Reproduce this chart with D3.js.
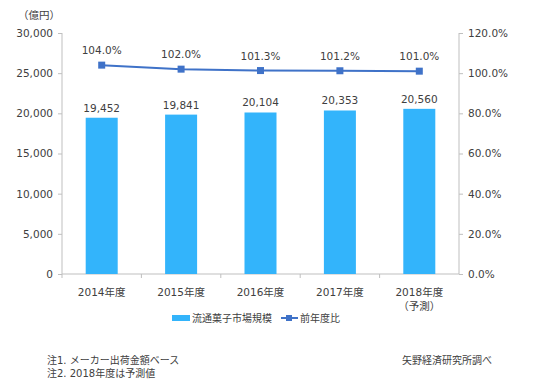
<!DOCTYPE html>
<html>
<head>
<meta charset="utf-8">
<title>流通菓子市場規模</title>
<style>
  body { margin: 0; background: #fff; }
  text { font-family: "DejaVu Sans", "Noto Sans CJK JP", sans-serif; fill: #404040; }
  .axis path, .axis line { stroke: #bfbfbf; }
</style>
<script src="https://cdn.jsdelivr.net/npm/d3@7"></script>
</head>
<body>
<script>
// data
var years = ["2014年度", "2015年度", "2016年度", "2017年度", "2018年度"];
var marketSize = [19452, 19841, 20104, 20353, 20560];
var yoy = [104.0, 102.0, 101.3, 101.2, 101.0];
var leftTicks = [0, 5000, 10000, 15000, 20000, 25000, 30000];
var rightTicks = [0, 20, 40, 60, 80, 100, 120];

var width = 544, height = 388;
var margin = {top: 33, left: 62, right: 85, bottom: 114};
var barColor = "#33b4fb", lineColor = "#3f72c8";

var svg = d3.select("body").append("svg")
  .attr("width", width).attr("height", height);

var x = d3.scaleBand().domain(years)
  .range([margin.left, width - margin.right]).paddingInner(0.6).paddingOuter(0.3);
var y = d3.scaleLinear().domain([0, 30000]).range([height - margin.bottom, margin.top]);
var y2 = d3.scaleLinear().domain([0, 120]).range([height - margin.bottom, margin.top]);
var xb = d3.scaleBand().domain(years).range([margin.left, width - margin.right]);

// left axis
var gl = svg.append("g").attr("class", "axis")
  .attr("transform", "translate(" + margin.left + ",0)")
  .call(d3.axisLeft(y).tickValues(leftTicks).tickFormat(d3.format(",")).tickSize(4).tickSizeOuter(0));
gl.selectAll("text").attr("font-size", "10.5px").attr("x", -9);
gl.select(".domain").remove();
gl.append("line").attr("x1", 0).attr("x2", 0).attr("y1", y(0)).attr("y2", y(30000)).attr("stroke", "#bfbfbf");

// right axis
var gr = svg.append("g").attr("class", "axis")
  .attr("transform", "translate(" + (width - margin.right) + ",0)")
  .call(d3.axisRight(y2).tickValues(rightTicks).tickFormat(function(d){ return d.toFixed(1) + "%"; }).tickSize(4).tickSizeOuter(0));
gr.selectAll("text").attr("font-size", "10.5px").attr("x", 9);
gr.select(".domain").remove();
gr.append("line").attr("x1", 0).attr("x2", 0).attr("y1", y2(0)).attr("y2", y2(120)).attr("stroke", "#bfbfbf");

// x axis baseline with ticks on category boundaries
var gx = svg.append("g").attr("class", "axis");
gx.append("line").attr("x1", margin.left).attr("x2", width - margin.right)
  .attr("y1", y(0)).attr("y2", y(0)).attr("stroke", "#bfbfbf");
gx.selectAll(".bt").data(years).enter().append("line")
  .attr("x1", function(d){ return xb(d); }).attr("x2", function(d){ return xb(d); })
  .attr("y1", y(0)).attr("y2", y(0) + 4).attr("stroke", "#bfbfbf");
svg.selectAll(".xl").data(years).enter().append("text")
  .attr("x", function(d){ return xb(d) + xb.bandwidth() / 2; })
  .attr("y", y(0) + 22).attr("text-anchor", "middle").attr("font-size", "10.5px")
  .text(function(d){ return d; });
svg.append("text").attr("x", xb(years[4]) + xb.bandwidth() / 2).attr("y", y(0) + 36)
  .attr("text-anchor", "middle").attr("font-size", "10.5px").text("（予測）");

// unit
svg.append("text").attr("x", 18).attr("y", 19).attr("font-size", "10.5px").text("（億円）");

// bars
svg.selectAll(".bar").data(marketSize).enter().append("rect")
  .attr("x", function(d, i){ return xb(years[i]) + xb.bandwidth() / 2 - 16; })
  .attr("width", 32)
  .attr("y", function(d){ return y(d); })
  .attr("height", function(d){ return y(0) - y(d); })
  .attr("fill", barColor);
svg.selectAll(".bl").data(marketSize).enter().append("text")
  .attr("x", function(d, i){ return xb(years[i]) + xb.bandwidth() / 2; })
  .attr("y", function(d){ return y(d) - 6; })
  .attr("text-anchor", "middle").attr("font-size", "10.5px")
  .text(d3.format(","));

// line
var line = d3.line()
  .x(function(d, i){ return xb(years[i]) + xb.bandwidth() / 2; })
  .y(function(d){ return y2(d); });
svg.append("path").datum(yoy).attr("d", line)
  .attr("fill", "none").attr("stroke", lineColor).attr("stroke-width", 2);
svg.selectAll(".pt").data(yoy).enter().append("rect")
  .attr("x", function(d, i){ return xb(years[i]) + xb.bandwidth() / 2 - 3.5; })
  .attr("y", function(d){ return y2(d) - 3.5; })
  .attr("width", 7).attr("height", 7).attr("fill", lineColor);
svg.selectAll(".pl").data(yoy).enter().append("text")
  .attr("x", function(d, i){ return xb(years[i]) + xb.bandwidth() / 2; })
  .attr("y", function(d){ return y2(d) - 11; })
  .attr("text-anchor", "middle").attr("font-size", "10.5px")
  .text(function(d){ return d.toFixed(1) + "%"; });

// legend
var lg = svg.append("g").attr("transform", "translate(172,318)");
lg.append("rect").attr("x", 0).attr("y", -3).attr("width", 18).attr("height", 6).attr("fill", barColor);
lg.append("text").attr("x", 20).attr("y", 4).attr("font-size", "10px").text("流通菓子市場規模");
lg.append("line").attr("x1", 109).attr("x2", 126).attr("y1", 0).attr("y2", 0).attr("stroke", lineColor).attr("stroke-width", 2);
lg.append("rect").attr("x", 114).attr("y", -3).attr("width", 6).attr("height", 6).attr("fill", lineColor);
lg.append("text").attr("x", 128).attr("y", 4).attr("font-size", "10px").text("前年度比");

// notes
svg.append("text").attr("x", 47).attr("y", 364).attr("font-size", "10px").text("注1. メーカー出荷金額ベース");
svg.append("text").attr("x", 47).attr("y", 377).attr("font-size", "10px").text("注2. 2018年度は予測値");
svg.append("text").attr("x", 402).attr("y", 364).attr("font-size", "10px").text("矢野経済研究所調べ");
</script>
</body>
</html>
